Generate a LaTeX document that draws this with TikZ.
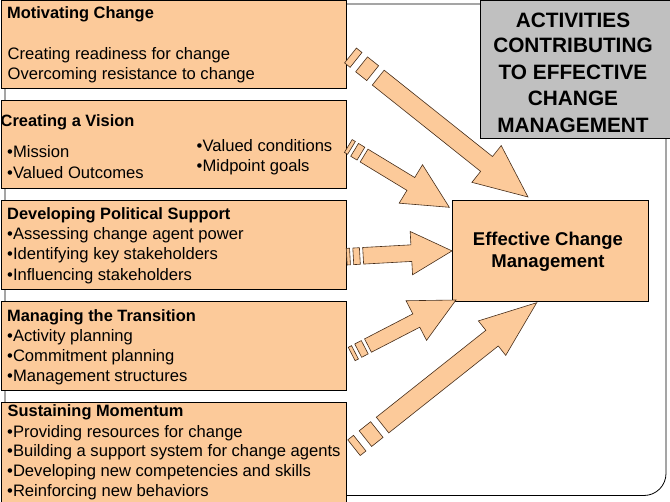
\documentclass[tikz,border=0pt]{standalone}
\usepackage{fontspec}
\setmainfont{Liberation Sans}
\usetikzlibrary{calc}
\definecolor{peach}{RGB}{252,202,154}
\definecolor{edgebrown}{RGB}{70,45,25}
\definecolor{titlegray}{RGB}{192,192,192}
\tikzset{
  box/.style={draw=black, line width=0.8pt, fill=peach, inner sep=0pt, anchor=north west},
  txt/.style={inner sep=0pt, anchor=base west, font=\fontsize{16.6}{20}\selectfont},
  hd/.style={txt, font=\fontsize{16.4}{20}\selectfont\bfseries},
  ttl/.style={inner sep=0pt, anchor=base, font=\fontsize{20.8}{26}\selectfont\bfseries},
  ecm/.style={inner sep=0pt, anchor=base, font=\fontsize{18.5}{22}\selectfont\bfseries},
  arr/.style={draw=edgebrown, line width=0.6pt, fill=peach, line join=miter}
}
% #1 start, #2 tip, #3 half shaft width, #4 half head width, #5 head length
\newcommand\stripearrow[5]{%
  \draw[arr] ($(#1)!0!(#2)!#3!90:(#2)$) -- ($(#1)!0.03125!(#2)!#3!90:(#2)$)
     -- ($(#1)!0.03125!(#2)!#3!-90:(#2)$) -- ($(#1)!0!(#2)!#3!-90:(#2)$) -- cycle;
  \draw[arr] ($(#1)!0.0625!(#2)!#3!90:(#2)$) -- ($(#1)!0.125!(#2)!#3!90:(#2)$)
     -- ($(#1)!0.125!(#2)!#3!-90:(#2)$) -- ($(#1)!0.0625!(#2)!#3!-90:(#2)$) -- cycle;
  \draw[arr] ($(#1)!0.15625!(#2)!#3!90:(#2)$) -- ($(#2)!#5!(#1)!#3!-90:(#1)$)
     -- ($(#2)!#5!(#1)!#4!-90:(#1)$) -- (#2)
     -- ($(#2)!#5!(#1)!#4!90:(#1)$) -- ($(#2)!#5!(#1)!#3!90:(#1)$)
     -- ($(#1)!0.15625!(#2)!#3!-90:(#2)$) -- cycle;
}
\begin{document}
\begin{tikzpicture}[x=1pt,y=-1pt]
\useasboundingbox (0,0) rectangle (670,502);
\fill[white] (0,0) rectangle (670,502);
% frame
\draw[line width=0.8pt, rounded corners=22pt] (5,4) rectangle (666,495.5);
% boxes
\node[box, minimum width=345, minimum height=88] (b1) at (1,0) {};
\node[box, minimum width=345, minimum height=88] (b2) at (1,100) {};
\node[box, minimum width=345, minimum height=89] (b3) at (1,200) {};
\node[box, minimum width=345, minimum height=89] (b4) at (1,301) {};
\node[box, minimum width=345, minimum height=105] (b5) at (1,402) {};
\node[box, minimum width=196, minimum height=101] (ecm) at (452,200) {};
\node[box, fill=titlegray, minimum width=195, minimum height=138] (gray) at (480,0) {};
% box texts
\node[hd] (t1h) at (7,18.3) {Motivating Change};
\node[txt] (t1a) at (7.5,59.3) {Creating readiness for change};
\node[txt] (t1b) at (7.5,80) {Overcoming resistance to change};
\node[hd] (t2h) at (0.5,126.5) {Creating a Vision};
\node[txt] (t2a) at (7,158) {•Mission};
\node[txt] (t2b) at (7,178.3) {•Valued Outcomes};
\node[txt] (t2c) at (196.5,151.7) {•Valued conditions};
\node[txt] (t2d) at (196.5,171.7) {•Midpoint goals};
\node[hd] (t3h) at (7,219.8) {Developing Political Support};
\node[txt] (t3a) at (7,239.8) {•Assessing change agent power};
\node[txt] (t3b) at (7,259.8) {•Identifying key stakeholders};
\node[txt] (t3c) at (7,280.3) {•Influencing stakeholders};
\node[hd] (t4h) at (7,321.5) {Managing the Transition};
\node[txt] (t4a) at (7,341.5) {•Activity planning};
\node[txt] (t4b) at (7,361.5) {•Commitment planning};
\node[txt] (t4c) at (7,381.5) {•Management structures};
\node[hd] (t5h) at (7.5,416.8) {Sustaining Momentum};
\node[txt] (t5a) at (7,437.3) {•Providing resources for change};
\node[txt] (t5b) at (7,457) {•Building a support system for change agents};
\node[txt] (t5c) at (7,477) {•Developing new competencies and skills};
\node[txt] (t5d) at (7,497) {•Reinforcing new behaviors};
% title
\node[ttl] (g1) at (573,27.4) {ACTIVITIES};
\node[ttl] (g2) at (573,52.5) {CONTRIBUTING};
\node[ttl] (g3) at (573,79.2) {TO EFFECTIVE};
\node[ttl] (g4) at (573,105.9) {CHANGE};
\node[ttl] (g5) at (573,132.5) {MANAGEMENT};
% ECM text
\node[ecm] (e1) at (548,246) {Effective Change};
\node[ecm] (e2) at (548,268) {Management};
% arrows
\coordinate (a1s) at (350.5,55.5);  \coordinate (a1t) at (528,197);
\coordinate (a2s) at (348.3,146);   \coordinate (a2t) at (449.3,207.3);
\coordinate (a3s) at (346.7,256.7); \coordinate (a3t) at (ecm.west);
\coordinate (a4s) at (351.7,354);   \coordinate (a4t) at (456,300);
\coordinate (a5s) at (354,447.7);   \coordinate (a5t) at (536.7,302.7);
\stripearrow{a1s}{a1t}{9.5pt}{23.5pt}{53pt}
\stripearrow{a2s}{a2t}{7.5pt}{22.5pt}{45pt}
\stripearrow{a3s}{a3t}{8.3pt}{21.7pt}{40.7pt}
\stripearrow{a4s}{a4t}{7.5pt}{22.3pt}{44.7pt}
\stripearrow{a5s}{a5t}{10pt}{22pt}{57pt}
\end{tikzpicture}
\end{document}
